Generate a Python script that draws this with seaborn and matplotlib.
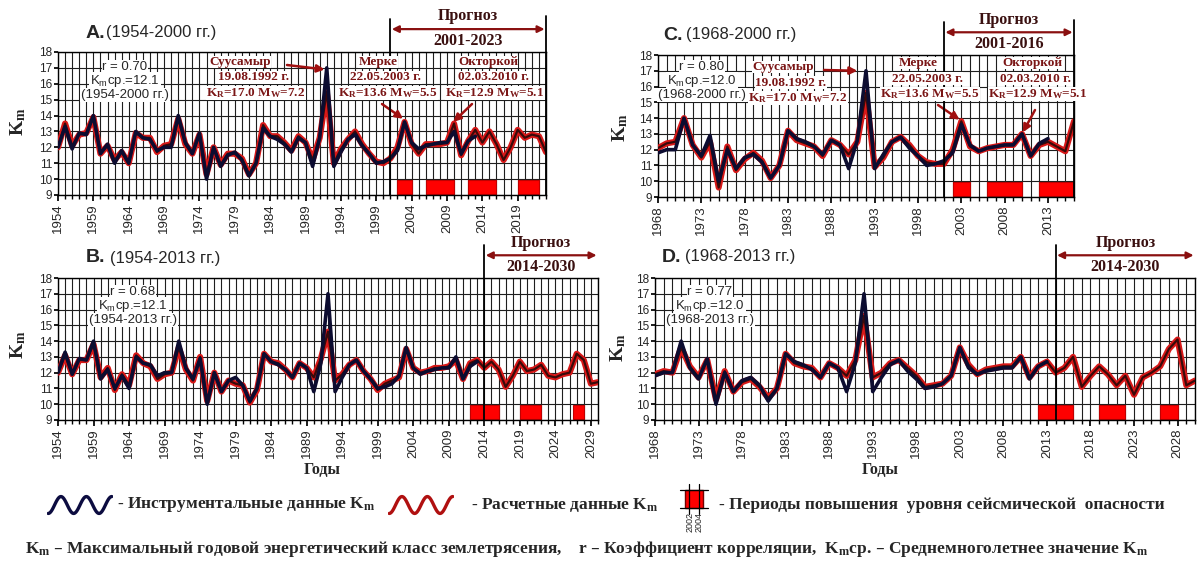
import numpy as np
import pandas as pd
import seaborn as sns
import matplotlib
matplotlib.use("Agg")
import matplotlib.pyplot as plt
from matplotlib.ticker import MultipleLocator, FixedLocator
from matplotlib.patches import Rectangle
from matplotlib.lines import Line2D

sns.set_theme(style="white")
plt.rcParams["font.family"] = ["Liberation Sans", "DejaVu Sans"]
plt.rcParams["mathtext.default"] = "regular"

W, H = 1197, 562
SERIF = ["Liberation Serif", "DejaVu Serif"]

# --- data -------------------------------------------------------------
# instrumental Km, 1954-2013
instr_start = 1954
instr_km = [
    12.0, 13.3, 11.9, 12.9, 12.8, 14.0, 11.6, 12.2, 11.0, 11.8,
    11.0, 13.0, 12.6, 12.5, 11.8, 12.0, 12.0, 14.0, 12.3, 11.6,
    12.9, 10.0, 12.0, 10.8, 11.5, 11.7, 11.2, 10.2, 11.0, 13.2,
    12.7, 12.5, 12.2, 11.7, 12.6, 12.3, 10.8, 12.6, 17.0, 10.8,
    11.7, 12.5, 12.8, 12.1, 11.6, 11.0, 11.1, 11.3, 11.8, 13.6,
    12.3, 11.9, 12.1, 12.2, 12.3, 12.3, 13.0, 11.6, 12.4, 12.7,
]

# calculated Km per panel
calc_a_start = 1954  # to 2023
calc_a = [
    12.0, 13.5, 12.1, 12.8, 12.9, 13.9, 11.6, 12.1, 11.2, 11.7,
    11.0, 12.9, 12.6, 12.6, 11.7, 12.1, 12.2, 13.8, 12.2, 11.6,
    12.8, 10.3, 12.0, 10.9, 11.6, 11.6, 11.3, 10.3, 11.0, 13.4,
    12.7, 12.7, 12.3, 11.8, 12.7, 12.3, 11.2, 12.6, 15.5, 11.0,
    11.9, 12.5, 13.0, 12.2, 11.6, 11.1, 11.0, 11.3, 12.0, 13.6,
    12.2, 11.6, 12.2, 12.2, 12.2, 12.3, 13.5, 11.5, 12.4, 13.1,
    12.3, 13.0, 12.2, 11.2, 12.0, 13.1, 12.6, 12.8, 12.7, 11.7,
]
calc_b_start = 1954  # to 2030
calc_b = [
    12.0, 13.1, 11.9, 12.8, 12.8, 13.8, 11.7, 12.3, 10.9, 11.9,
    11.2, 13.1, 12.6, 12.4, 11.6, 11.9, 12.0, 13.6, 12.2, 11.5,
    13.0, 10.2, 12.0, 10.8, 11.5, 11.3, 11.2, 10.1, 10.9, 13.2,
    12.7, 12.6, 12.2, 11.7, 12.6, 12.3, 11.7, 12.9, 14.6, 11.5,
    11.9, 12.5, 12.8, 12.1, 11.6, 10.9, 11.3, 11.5, 11.7, 13.5,
    12.3, 12.0, 12.1, 12.3, 12.3, 12.4, 12.8, 11.6, 12.6, 12.8,
    12.3, 12.7, 12.2, 11.1, 11.8, 12.7, 12.1, 12.2, 12.5, 11.8,
    11.7, 11.9, 12.0, 13.2, 12.8, 11.3, 11.4,
]
calc_c_start = 1968  # to 2016
calc_c = [
    12.1, 12.4, 12.5, 14.0, 12.3, 11.5, 12.5, 9.6, 12.2, 10.7,
    11.4, 11.8, 11.3, 10.2, 11.0, 13.2, 12.6, 12.4, 12.2, 11.6,
    12.6, 12.3, 11.7, 12.5, 15.6, 10.9, 11.5, 12.5, 12.8, 12.3,
    11.6, 11.2, 11.1, 11.1, 12.0, 13.8, 12.2, 11.9, 12.1, 12.2,
    12.3, 12.3, 13.0, 11.6, 12.3, 12.5, 12.2, 11.9, 13.8,
]
calc_d_start = 1968  # to 2030
calc_d = [
    11.9, 12.1, 12.0, 13.6, 12.4, 11.7, 12.8, 10.3, 12.1, 10.8,
    11.4, 11.6, 11.1, 10.4, 11.0, 13.2, 12.6, 12.4, 12.3, 11.7,
    12.6, 12.3, 11.8, 12.8, 15.6, 11.7, 12.0, 12.6, 12.8, 12.3,
    11.8, 11.1, 11.2, 11.3, 11.8, 13.6, 12.5, 11.9, 12.2, 12.3,
    12.4, 12.4, 13.0, 11.7, 12.4, 12.7, 12.0, 12.3, 13.0, 11.1,
    11.8, 12.4, 11.9, 11.2, 11.8, 10.6, 11.7, 12.0, 12.4, 13.5,
    14.1, 11.2, 11.5,
]

# periods of raised seismic hazard (start, end)
hazard_a = [(2002, 2004), (2006, 2010), (2012, 2016), (2019, 2022)]
hazard_b = [(2012, 2016), (2019, 2022), (2026.5, 2028)]
hazard_c = [(2002, 2004), (2006, 2010), (2012, 2016)]
hazard_d = [(2012, 2016), (2019, 2022), (2026, 2028)]

# forecast windows
forecast_a = (2001, 2023)
forecast_b = (2014, 2030)
forecast_c = (2001, 2016)
forecast_d = (2014, 2030)

panels = [
    dict(letter="A.", span="(1954-2000 гг.)", box=(58, 52, 546, 195), xlim=(1954, 2023),
         start=calc_a_start, calc=calc_a, hazard=hazard_a, fc=forecast_a, right_line=True,
         stats=["r = 0.70", "K$_m$ср.=12.1", "(1954-2000 гг.)"], stats_xy=(125, 67),
         title_xy=(86, 106, 33), ylab_xy=(18, 122)),
    dict(letter="C.", span="(1968-2000 гг.)", box=(658, 55, 1074, 197), xlim=(1968, 2016),
         start=calc_c_start, calc=calc_c, hazard=hazard_c, fc=forecast_c, right_line=True,
         stats=["r = 0.80", "K$_m$ср.=12.0", "(1968-2000 гг.)"], stats_xy=(702, 67),
         title_xy=(663, 686, 35), ylab_xy=(620, 128)),
    dict(letter="B.", span="(1954-2013 гг.)", box=(58, 278, 598, 420), xlim=(1954, 2030),
         start=calc_b_start, calc=calc_b, hazard=hazard_b, fc=forecast_b, right_line=False,
         stats=["r = 0.68", "K$_m$ср.=12.1", "(1954-2013 гг.)"], stats_xy=(133, 292),
         title_xy=(86, 110, 258), ylab_xy=(18, 345)),
    dict(letter="D.", span="(1968-2013 гг.)", box=(655, 278, 1195, 420), xlim=(1968, 2030),
         start=calc_d_start, calc=calc_d, hazard=hazard_d, fc=forecast_d, right_line=False,
         stats=["r = 0.77", "K$_m$ср.=12.0", "(1968-2013 гг.)"], stats_xy=(710, 292),
         title_xy=(662, 685, 257), ylab_xy=(618, 348)),
]

fig = plt.figure(figsize=(W / 100, H / 100), dpi=100)


def ftext(x, y, s, **kw):
    return fig.text(x / W, 1 - y / H, s, **kw)


axes = {}
for p in panels:
    x0, y0, x1, y1 = p["box"]
    ax = fig.add_axes([x0 / W, 1 - y1 / H, (x1 - x0) / W, (y1 - y0) / H])
    axes[p["letter"]] = ax
    ax.set_xlim(*p["xlim"])
    ax.set_ylim(9, 18)
    ax.set_axisbelow(True)

    # hazard bars
    for s, e in p["hazard"]:
        ax.bar(s, 0.86, width=e - s, bottom=9.08, align="edge",
               color="#ff0000", edgecolor="#c00000", linewidth=0.8, zorder=2)

    calc_years = np.arange(p["start"], p["start"] + len(p["calc"]))
    df_calc = pd.DataFrame({"year": calc_years, "km": p["calc"]})
    iy = np.arange(instr_start, instr_start + len(instr_km))
    df_instr = pd.DataFrame({"year": iy, "km": instr_km})
    df_instr = df_instr[df_instr["year"] >= p["xlim"][0]]

    sns.lineplot(data=df_calc, x="year", y="km", ax=ax, color="#d81818",
                 linewidth=4.4, solid_joinstyle="round", zorder=3)
    sns.lineplot(data=df_calc, x="year", y="km", ax=ax, color="#3a0a0a",
                 linewidth=1.6, solid_joinstyle="round", zorder=4)
    sns.lineplot(data=df_instr, x="year", y="km", ax=ax, color="#0c0c30",
                 linewidth=2.6, solid_joinstyle="round", zorder=5)

    ax.set_xlabel("")
    ax.set_ylabel("")
    ax.xaxis.set_major_locator(FixedLocator(np.arange(p["xlim"][0], p["xlim"][1] + 1, 5)))
    ax.xaxis.set_minor_locator(MultipleLocator(1))
    ax.yaxis.set_major_locator(MultipleLocator(1))
    ax.grid(which="both", axis="x", color="#1e1e1e", linewidth=0.8)
    ax.grid(which="major", axis="y", color="#1e1e1e", linewidth=0.8)
    ax.tick_params(axis="x", which="major", labelrotation=90, labelsize=9.5, length=4,
                   pad=2, bottom=True, color="black")
    ax.tick_params(axis="x", which="minor", length=3, bottom=True, color="black")
    ax.tick_params(axis="y", labelsize=8.5, length=3, left=True, pad=1, color="black")
    for sp in ax.spines.values():
        sp.set_color("black")
        sp.set_linewidth(1.0)

    # forecast frame
    fs, fe = p["fc"]
    ax.axvline(fs, ymin=0, ymax=1.23, color="black", lw=1.3, clip_on=False, zorder=6)
    if p["right_line"]:
        ax.axvline(fe, ymin=0, ymax=1.25, color="black", lw=1.3, clip_on=False, zorder=6)
    tr = ax.get_xaxis_transform()
    ax.annotate("", xy=(fe, 1.16), xytext=(fs, 1.16), xycoords=tr, textcoords=tr,
                arrowprops=dict(arrowstyle="<|-|>", color="#8a1010", lw=1.6,
                                mutation_scale=10, shrinkA=1, shrinkB=1),
                annotation_clip=False)
    mid = (fs + fe) / 2
    ax.text(mid, 1.25, "Прогноз", transform=tr, ha="center", va="center",
            fontsize=11.5, weight="bold", family=SERIF, color="#3a1010")
    ax.text(mid, 1.075, f"{fs}-{fe}", transform=tr, ha="center", va="center",
            fontsize=11.5, weight="bold", family=SERIF, color="#3a1010")

    # title, y label, stats
    tx, tx2, ty = p["title_xy"]
    ftext(tx, ty, p["letter"], fontsize=14, weight="bold", ha="left", va="center")
    ftext(tx2, ty, p["span"], fontsize=12, ha="left", va="center")
    ftext(p["ylab_xy"][0], p["ylab_xy"][1], "K$_m$", family=SERIF, fontsize=14,
          weight="bold", rotation=90, ha="center", va="center")
    sx, sy = p["stats_xy"]
    for i, line in enumerate(p["stats"]):
        ftext(sx, sy + 14 * i, line, fontsize=9.5, ha="center", va="center",
              bbox=dict(facecolor="white", edgecolor="none", pad=0.6))

# --- earthquake annotations ----------------------------------------------
quake_text = dict(family=SERIF, weight="bold", fontsize=9.5, color="#7a1515",
                  ha="center", va="center",
                  bbox=dict(facecolor="white", edgecolor="none", pad=0.3))
arrow_kw = dict(arrowstyle="-|>", color="#a01010", lw=1.8, mutation_scale=11,
                shrinkA=0, shrinkB=0)

quakes = [
    # panel, lines, text x, text y, arrow start px, arrow target (year, Km)
    ("A.", ["Суусамыр", "19.08.1992 г.", "K$_R$=17.0 M$_W$=7.2"], (240, 254, 256), 62,
     (287, 65), (1991.7, 16.9)),
    ("A.", ["Мерке", "22.05.2003 г.", "K$_R$=13.6 M$_W$=5.5"], (378, 386, 388), 62,
     (382, 104), (2002.8, 13.8)),
    ("A.", ["Окторкой", "02.03.2010 г.", "K$_R$=12.9 M$_W$=5.1"], (488, 493, 495), 62,
     (472, 104), (2009.9, 13.6)),
    ("C.", ["Суусамыр", "19.08.1992 г.", "K$_R$=17.0 M$_W$=7.2"], (783, 791, 798), 67,
     (824, 70), (1991.0, 17.0)),
    ("C.", ["Мерке", "22.05.2003 г.", "K$_R$=13.6 M$_W$=5.5"], (918, 927, 930), 63,
     (938, 105), (2002.8, 13.9)),
    ("C.", ["Окторкой", "02.03.2010 г.", "K$_R$=12.9 M$_W$=5.1"], (1032, 1036, 1038), 63,
     (1035, 110), (2010.1, 13.1)),
]
for key, lines, xs, y0, (ax_px, ay_px), target in quakes:
    for i, (line, x) in enumerate(zip(lines, xs)):
        ftext(x, y0 + 15.5 * i, line, **quake_text)
    axes[key].annotate("", xy=target, xycoords="data", xytext=(ax_px, H - ay_px),
                       textcoords="figure pixels", arrowprops=arrow_kw,
                       annotation_clip=False)

# --- bottom labels and legend -------------------------------------------
ftext(322, 470, "Годы", family=SERIF, weight="bold", fontsize=11.5, ha="center", va="center")
ftext(880, 470, "Годы", family=SERIF, weight="bold", fontsize=11.5, ha="center", va="center")

legend_font = dict(family=SERIF, weight="bold", fontsize=12.5, ha="left", va="center")
t_wave = np.linspace(0, 5 * np.pi, 80)
for x0, col in [(47, "#0c0c40"), (388, "#b01010")]:
    wax = fig.add_axes([x0 / W, 1 - 516 / H, 66 / W, 22 / H])
    wax.plot(t_wave, -np.cos(t_wave), color=col, lw=2.4, solid_joinstyle="round")
    wax.set_xlim(-0.3, 5 * np.pi + 0.3)
    wax.set_ylim(-1.3, 1.3)
    wax.axis("off")
ftext(117, 505, "- Инструментальные данные K$_m$", **legend_font)
ftext(471, 505, "- Расчетные данные K$_m$", **legend_font)

fig.patches.append(Rectangle((685 / W, 1 - 508 / H), 18 / W, 18 / H, transform=fig.transFigure,
                             facecolor="#ff0000", edgecolor="#700000", lw=1.0))
for yy in (490, 508):
    fig.lines.append(Line2D([680 / W, 708 / W], [1 - yy / H] * 2, transform=fig.transFigure,
                            color="black", lw=0.9))
for xx in (689, 699):
    fig.lines.append(Line2D([xx / W] * 2, [1 - 484 / H, 1 - 514 / H], transform=fig.transFigure,
                            color="black", lw=0.9))
ftext(690, 512, "2002", fontsize=6.5, rotation=90, ha="center", va="top")
ftext(699, 512, "2004", fontsize=6.5, rotation=90, ha="center", va="top")
ftext(719, 505, "- Периоды повышения  уровня сейсмической  опасности", **legend_font)

ftext(25, 549, "K$_m$ – Максимальный годовой энергетический класс землетрясения,    "
               "r – Коэффициент корреляции,  K$_m$ср. – Среднемноголетнее значение K$_m$",
      family=SERIF, weight="bold", fontsize=12.5, ha="left", va="center")

fig.savefig("out.png", dpi=100, facecolor="white")
